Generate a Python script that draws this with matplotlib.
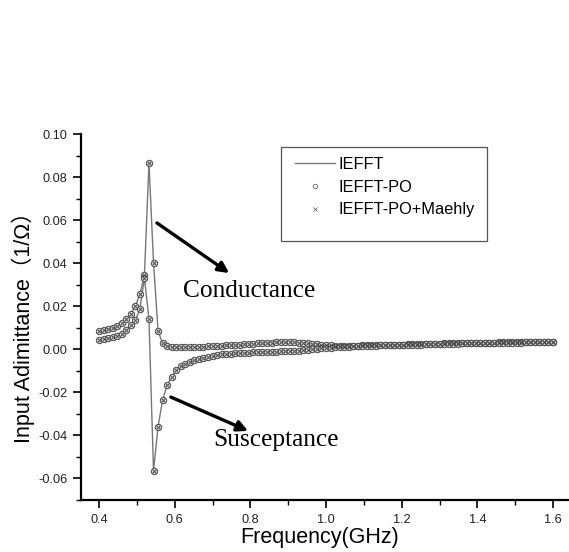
import numpy as np
import matplotlib
matplotlib.use("Agg")
import matplotlib.pyplot as plt
from matplotlib.lines import Line2D
from matplotlib.patches import Rectangle
from matplotlib.ticker import MultipleLocator

# frequency grid, 0.4 .. 1.6 GHz in 0.012 GHz steps (101 points)
freq = np.linspace(0.4, 1.6, 101)

# conductance (real part), 1/Ohm
conductance = [
    0.0085, 0.0089, 0.0094, 0.0101, 0.0110, 0.0122, 0.0140, 0.0166, 0.0200, 0.0255,
    0.0345, 0.0865, 0.0403, 0.0086, 0.0027, 0.0016, 0.0012, 0.0011, 0.0011, 0.0011,
    0.0012, 0.0012, 0.0013, 0.0013, 0.0014, 0.0015, 0.0016, 0.0017, 0.0018, 0.0019,
    0.0020, 0.0022, 0.0023, 0.0025, 0.0026, 0.0028, 0.0029, 0.0030, 0.0031, 0.0032,
    0.0033, 0.0033, 0.0033, 0.0032, 0.0031, 0.0030, 0.0028, 0.0026, 0.0024, 0.0022,
    0.0020, 0.0018, 0.0017, 0.0016, 0.0016, 0.0016, 0.0017, 0.0017, 0.0018, 0.0018,
    0.0019, 0.0019, 0.0020, 0.0020, 0.0021, 0.0021, 0.0022, 0.0022, 0.0023, 0.0023,
    0.0024, 0.0024, 0.0025, 0.0025, 0.0026, 0.0026, 0.0027, 0.0027, 0.0028, 0.0028,
    0.0029, 0.0029, 0.0029, 0.0030, 0.0030, 0.0031, 0.0031, 0.0031, 0.0032, 0.0032,
    0.0032, 0.0033, 0.0033, 0.0033, 0.0034, 0.0034, 0.0034, 0.0035, 0.0035, 0.0035,
    0.0035,
]

# susceptance (imaginary part), 1/Ohm
susceptance = [
    0.0045, 0.0048, 0.0052, 0.0057, 0.0063, 0.0072, 0.0088, 0.0113, 0.0135, 0.0187,
    0.0332, 0.0140, -0.0566, -0.0360, -0.0235, -0.0167, -0.0129, -0.0095, -0.0078, -0.0066,
    -0.0057, -0.0050, -0.0044, -0.0039, -0.0034, -0.0030, -0.0027, -0.0024, -0.0022, -0.0020,
    -0.0019, -0.0017, -0.0016, -0.0015, -0.0014, -0.0013, -0.0012, -0.0012, -0.0011, -0.0011,
    -0.0010, -0.0009, -0.0008, -0.0007, -0.0006, -0.0004, -0.0002, 0.0000, 0.0002, 0.0004,
    0.0006, 0.0008, 0.0010, 0.0011, 0.0012, 0.0013, 0.0014, 0.0015, 0.0016, 0.0016,
    0.0017, 0.0017, 0.0018, 0.0018, 0.0019, 0.0019, 0.0020, 0.0020, 0.0021, 0.0021,
    0.0022, 0.0022, 0.0023, 0.0023, 0.0024, 0.0024, 0.0025, 0.0025, 0.0026, 0.0026,
    0.0027, 0.0027, 0.0027, 0.0028, 0.0028, 0.0029, 0.0029, 0.0029, 0.0030, 0.0030,
    0.0030, 0.0031, 0.0031, 0.0031, 0.0032, 0.0032, 0.0032, 0.0033, 0.0033, 0.0033,
    0.0033,
]

legend_labels = ["IEFFT", "IEFFT-PO", "IEFFT-PO+Maehly"]

sans = ["Liberation Sans", "DejaVu Sans"]
gray = "#777777"
mk = "#4a4a4a"

fig = plt.figure(figsize=(5.69, 5.52), dpi=100)
ax = fig.add_axes([0.1424, 0.0942, 0.8576, 0.663])

for ys in (conductance, susceptance):
    ax.plot(freq, ys, color=gray, lw=1.0, zorder=2)
    ax.plot(freq, ys, ls="none", marker="o", ms=4.6, mfc="#d8d8d8",
            mec=mk, mew=0.7, zorder=3)
    ax.plot(freq, ys, ls="none", marker="x", ms=3.4, color=mk,
            mew=0.7, zorder=4)

ax.set_xlim(0.3524, 1.6423)
ax.set_ylim(-0.07, 0.10)
ax.xaxis.set_major_locator(MultipleLocator(0.2))
ax.xaxis.set_minor_locator(MultipleLocator(0.1))
ax.yaxis.set_major_locator(MultipleLocator(0.02))
ax.yaxis.set_minor_locator(MultipleLocator(0.01))
ax.xaxis.set_major_formatter(plt.FuncFormatter(lambda v, p: f"{v:.1f}"))
ax.yaxis.set_major_formatter(plt.FuncFormatter(lambda v, p: f"{v:.2f}"))

for s in ("top", "right"):
    ax.spines[s].set_visible(False)
for s in ("left", "bottom"):
    ax.spines[s].set_linewidth(1.6)
ax.tick_params(which="major", direction="out", length=6, width=1.2,
               labelsize=9.2, pad=4)
ax.tick_params(which="minor", direction="out", length=3.5, width=1.0)
for lab in ax.get_xticklabels() + ax.get_yticklabels():
    lab.set_family(sans)
    lab.set_color("#222222")

# axis titles
fig.text(0.041, 0.417, "Input Adimittance（1/Ω）", rotation=90,
         ha="center", va="center", fontsize=15.5,
         family=["Liberation Sans", "Noto Sans CJK SC"])
fig.text(0.561, 0.0254, "Frequency(GHz)", ha="center", va="center",
         fontsize=15.5, family=sans)

# annotations
arrow = dict(arrowstyle="-|>", lw=2.4, color="black", mutation_scale=16,
             shrinkA=0, shrinkB=0)
ax.annotate("", xy=(0.744, 0.0354), xytext=(0.553, 0.0587), arrowprops=arrow)
ax.annotate("", xy=(0.794, -0.0379), xytext=(0.590, -0.0222), arrowprops=arrow)
ax.text(0.622, 0.0243, "Conductance", fontsize=18.3, family="Liberation Serif",
        ha="left", va="baseline")
ax.text(0.701, -0.0449, "Susceptance", fontsize=18.3, family="Liberation Serif",
        ha="left", va="baseline")

# legend: entries without frame, box drawn separately
handles = [
    Line2D([], [], color=gray, lw=1.0),
    Line2D([], [], ls="none", marker="o", ms=3.2, mfc="none",
           mec="#666666", mew=0.6),
    Line2D([], [], ls="none", marker="x", ms=2.8, color="#666666", mew=0.6),
]
fig.legend(handles, legend_labels, loc="upper left",
           bbox_to_anchor=(295 / 569, 1 - 157 / 552),
           frameon=False, prop={"family": sans, "size": 11.8},
           handlelength=2.45, borderpad=0, labelspacing=0.47,
           handletextpad=0.2, borderaxespad=0)
fig.patches.append(Rectangle((281 / 569, 1 - 241 / 552), 206 / 569, 94 / 552,
                             transform=fig.transFigure, fill=False,
                             edgecolor="#555555", lw=0.9))

fig.savefig("out.png", dpi=100)
